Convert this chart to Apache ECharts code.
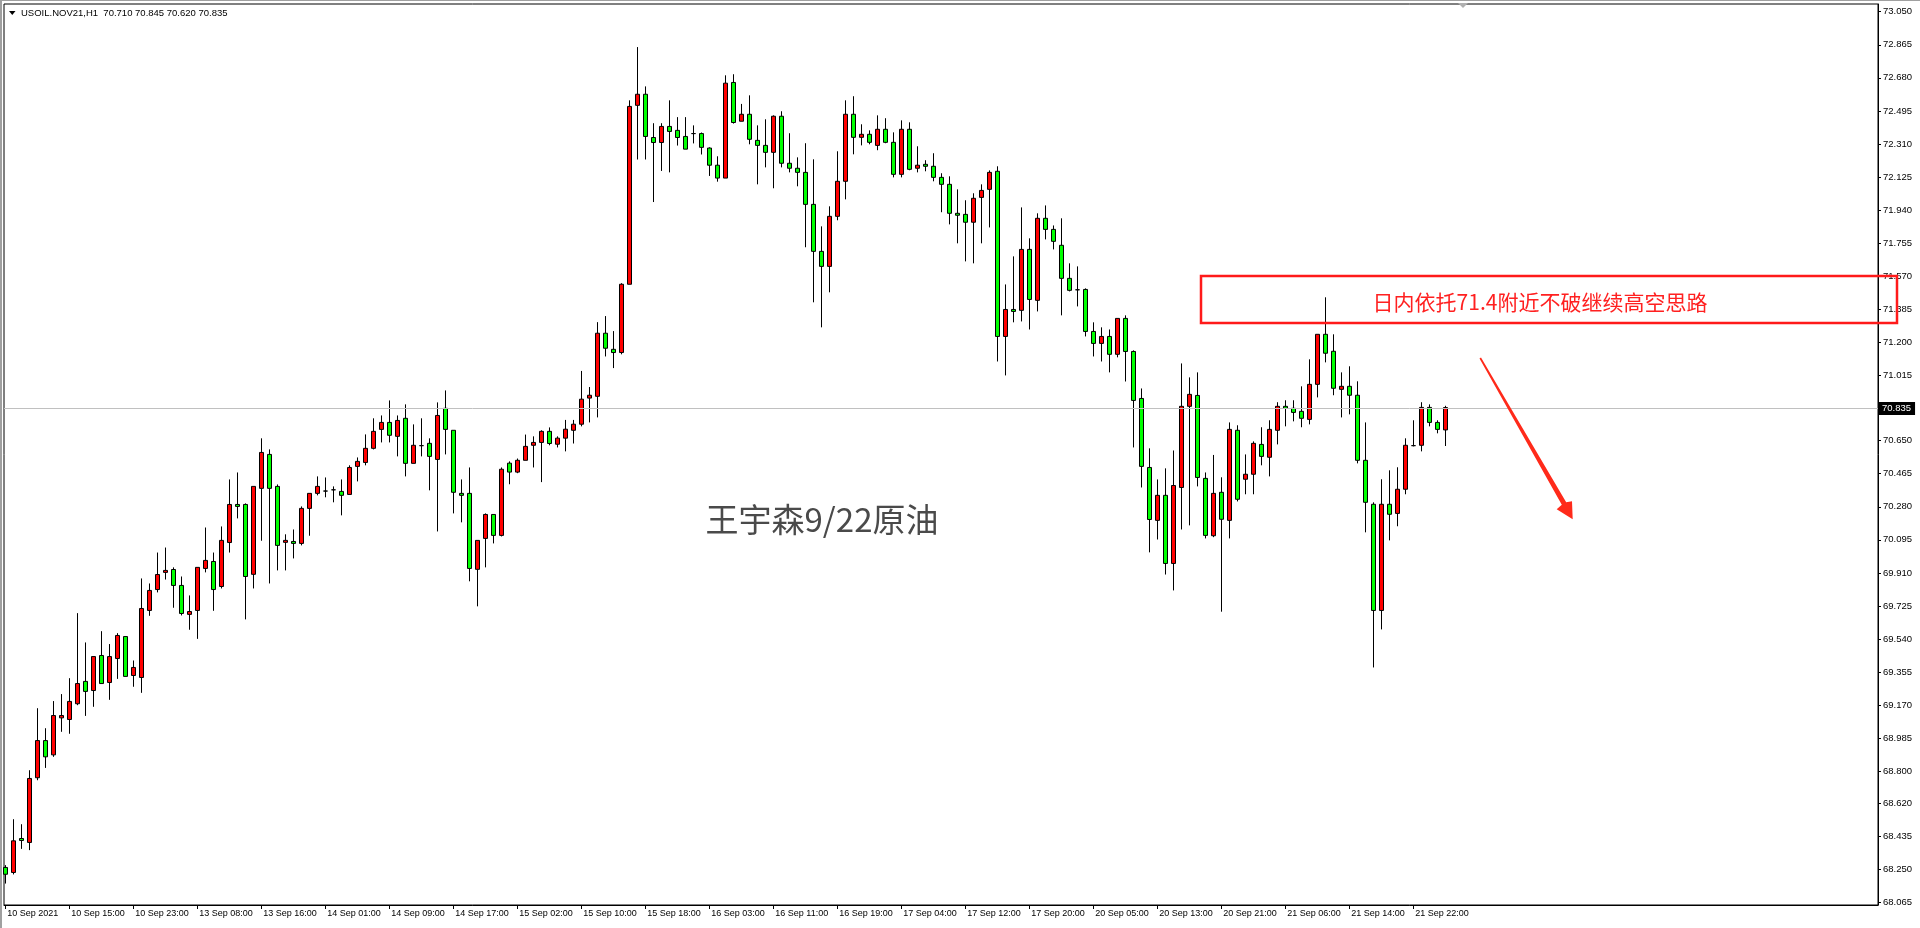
<!DOCTYPE html>
<html><head><meta charset="utf-8">
<script src="https://cdn.jsdelivr.net/npm/echarts@6/dist/echarts.min.js"></script>
<style>html,body{margin:0;padding:0;background:#fff;overflow:hidden}#c{width:1920px;height:928px}</style>
</head><body><div id="c"></div>
<script>
const symbolName = 'USOIL.NOV21,H1';
const xTickLabels = ['10 Sep 2021','10 Sep 15:00','10 Sep 23:00','13 Sep 08:00','13 Sep 16:00','14 Sep 01:00','14 Sep 09:00','14 Sep 17:00','15 Sep 02:00','15 Sep 10:00','15 Sep 18:00','16 Sep 03:00','16 Sep 11:00','16 Sep 19:00','17 Sep 04:00','17 Sep 12:00','17 Sep 20:00','20 Sep 05:00','20 Sep 13:00','20 Sep 21:00','21 Sep 06:00','21 Sep 14:00','21 Sep 22:00'];
const yTickLabels = ['73.050','72.865','72.680','72.495','72.310','72.125','71.940','71.755','71.570','71.385','71.200','71.015','70.650','70.465','70.280','70.095','69.910','69.725','69.540','69.355','69.170','68.985','68.800','68.620','68.435','68.250','68.065'];
const openP = [68.262,68.234,68.424,68.402,68.764,68.972,68.892,69.099,69.090,69.178,
69.303,69.252,69.448,69.297,69.431,69.554,69.336,69.325,69.700,69.817,
69.913,69.929,69.840,69.678,69.700,69.935,69.974,69.834,70.080,70.293,
70.293,69.902,70.383,70.573,70.394,70.081,70.086,70.075,70.271,70.355,
70.368,70.375,70.366,70.349,70.506,70.528,70.607,70.713,70.752,70.674,
70.775,70.523,70.622,70.635,70.545,70.831,70.708,70.355,70.355,69.930,
70.103,70.237,70.120,70.524,70.474,70.540,70.624,70.640,70.702,70.630,
70.664,70.708,70.742,70.888,70.898,71.251,71.161,71.143,71.525,72.526,
72.588,72.346,72.318,72.408,72.386,72.352,72.368,72.368,72.287,72.191,
72.119,72.654,72.437,72.476,72.330,72.302,72.263,72.465,72.202,72.174,
72.151,71.972,71.709,71.625,71.905,72.101,72.476,72.347,72.364,72.302,
72.392,72.319,72.140,72.392,72.174,72.196,72.185,72.123,72.084,71.922,
71.916,71.872,72.011,72.056,72.157,71.233,71.384,71.379,71.720,71.435,
71.894,71.832,71.743,71.558,71.494,71.496,71.261,71.194,71.233,71.133,
71.334,71.149,70.886,70.500,70.204,70.344,69.963,70.388,70.842,70.903,
70.439,70.118,70.361,70.204,70.708,70.434,70.462,70.629,70.557,70.708,
70.842,70.831,70.814,70.769,70.965,71.245,71.150,70.937,70.954,70.904,
70.540,70.294,69.700,70.294,70.243,70.378,70.622,70.624,70.836,70.752,70.710];
const highP = [68.275,68.532,68.504,68.806,69.153,69.041,69.193,69.232,69.321,69.685,
69.521,69.442,69.584,69.512,69.573,69.554,69.420,69.879,69.851,70.024,
70.052,69.941,69.890,69.784,69.941,70.164,70.024,70.170,70.433,70.472,
70.299,70.394,70.663,70.601,70.405,70.126,70.153,70.282,70.355,70.450,
70.444,70.394,70.433,70.512,70.556,70.685,70.775,70.791,70.875,70.791,
70.853,70.741,70.775,70.663,70.864,70.931,70.708,70.433,70.500,70.092,
70.243,70.237,70.500,70.534,70.550,70.684,70.674,70.708,70.724,70.674,
70.766,70.766,71.040,70.950,71.313,71.347,71.263,71.531,72.554,72.852,
72.632,72.426,72.426,72.554,72.460,72.460,72.414,72.374,72.291,72.241,
72.694,72.700,72.534,72.582,72.414,72.448,72.470,72.493,72.370,72.235,
72.314,72.224,71.849,71.961,72.269,72.554,72.577,72.420,72.386,72.470,
72.454,72.375,72.442,72.431,72.297,72.219,72.258,72.146,72.129,72.056,
71.995,72.034,72.084,72.162,72.185,71.524,71.681,71.955,71.782,71.922,
71.966,71.854,71.894,71.642,71.625,71.502,71.312,71.284,71.272,71.334,
71.351,71.155,70.942,70.607,70.433,70.495,70.595,71.082,71.004,71.032,
70.472,70.570,70.445,70.752,70.736,70.573,70.646,70.725,70.764,70.865,
70.876,70.876,70.954,71.105,71.245,71.452,71.245,71.032,71.066,70.982,
70.752,70.305,70.434,70.484,70.501,70.663,70.764,70.865,70.853,70.764,70.845];
const lowP = [68.172,68.223,68.366,68.359,68.750,68.819,68.881,69.021,69.010,69.170,
69.110,69.161,69.291,69.200,69.317,69.331,69.273,69.239,69.670,69.801,
69.873,69.715,69.672,69.592,69.541,69.913,69.698,69.823,70.024,70.215,
69.650,69.823,70.090,69.851,69.924,69.924,69.991,70.064,70.118,70.344,
70.333,70.305,70.232,70.349,70.422,70.512,70.601,70.640,70.640,70.562,
70.450,70.523,70.562,70.372,70.142,70.573,70.243,70.193,69.863,69.723,
69.941,70.075,70.114,70.406,70.468,70.540,70.500,70.418,70.624,70.612,
70.590,70.634,70.730,70.752,70.780,71.121,71.056,71.133,71.525,72.223,
72.223,71.985,72.159,72.151,72.301,72.281,72.313,72.251,72.131,72.099,
72.119,72.424,72.437,72.308,72.084,72.179,72.062,72.179,72.151,72.073,
71.732,71.424,71.284,71.480,71.883,72.000,72.252,72.302,72.308,72.275,
72.314,72.123,72.123,72.163,72.151,72.157,72.101,71.928,71.860,71.754,
71.653,71.642,71.754,71.843,71.093,71.015,71.312,71.317,71.272,71.373,
71.776,71.720,71.351,71.485,71.401,71.233,71.121,71.093,71.032,71.116,
70.981,70.612,70.388,70.025,70.097,69.901,69.812,70.153,70.176,70.394,
70.103,70.110,69.693,70.103,70.310,70.350,70.350,70.512,70.450,70.629,
70.730,70.758,70.725,70.741,70.892,71.088,70.904,70.780,70.797,70.523,
70.137,69.381,69.594,70.092,70.171,70.350,70.618,70.590,70.730,70.691,70.620];
const closeP = [68.224,68.411,68.413,68.760,68.972,68.881,69.112,69.112,69.191,69.291,
69.247,69.442,69.291,69.442,69.560,69.331,69.381,69.711,69.812,69.901,
69.924,69.840,69.683,69.694,69.941,69.980,69.817,70.092,70.293,70.282,
69.890,70.394,70.584,70.383,70.064,70.092,70.075,70.271,70.355,70.394,
70.368,70.375,70.344,70.500,70.534,70.607,70.702,70.752,70.680,70.763,
70.523,70.624,70.622,70.562,70.791,70.713,70.361,70.344,69.935,70.092,
70.237,70.120,70.490,70.474,70.540,70.618,70.640,70.702,70.634,70.664,
70.714,70.742,70.882,70.904,71.251,71.167,71.143,71.525,72.520,72.588,
72.352,72.318,72.408,72.380,72.346,72.281,72.368,72.291,72.191,72.119,
72.650,72.430,72.476,72.336,72.302,72.263,72.465,72.202,72.174,72.151,
71.972,71.709,71.625,71.905,72.101,72.476,72.347,72.364,72.319,72.392,
72.319,72.140,72.392,72.168,72.191,72.185,72.123,72.084,71.922,71.911,
71.872,72.006,72.050,72.151,71.233,71.384,71.373,71.720,71.440,71.894,
71.832,71.765,71.558,71.491,71.494,71.261,71.194,71.233,71.133,71.334,
71.149,70.875,70.506,70.209,70.344,69.963,70.399,70.842,70.909,70.444,
70.120,70.355,70.210,70.713,70.322,70.462,70.635,70.562,70.713,70.842,
70.831,70.808,70.775,70.965,71.245,71.139,70.943,70.954,70.904,70.540,
70.305,69.700,70.294,70.238,70.378,70.624,70.622,70.836,70.752,70.713,70.835];
const noteText = '日内依托71.4附近不破继续高空思路';
const watermarkText = '王宇森9/22原油';

const n = openP.length;
const last = n - 1;
const candles = openP.map((o, i) => [i, o, closeP[i], lowP[i], highP[i]]);
const xTickIdx = xTickLabels.map((_, k) => k * 8);
const yTickVals = yTickLabels.map(Number);
const headerText = symbolName + '  ' + [openP[last], highP[last], lowP[last], closeP[last]].map(v => v.toFixed(3)).join(' ');
const AX_FONT = 'Liberation Sans';

const chart = echarts.init(document.getElementById('c'), null, {renderer: 'canvas'});
chart.setOption({
  animation: false,
  backgroundColor: '#ffffff',
  grid: {left: 4, right: 42, top: 4, bottom: 23, show: true, borderColor: '#000', borderWidth: 1, backgroundColor: '#fff'},
  xAxis: {
    type: 'value', min: -0.1625, max: 234.0875,
    splitLine: {show: false},
    axisLine: {show: true, onZero: false, lineStyle: {color: '#000', width: 1}},
    axisTick: {show: true, customValues: xTickIdx, length: 4, lineStyle: {color: '#000'}},
    axisLabel: {
      customValues: xTickIdx, align: 'left', margin: 4, padding: [0, 0, 0, 2],
      color: '#000', fontSize: 9, fontFamily: AX_FONT,
      formatter: v => xTickLabels[Math.round(v / 8)] || ''
    }
  },
  yAxis: {
    type: 'value', position: 'right', min: 68.052, max: 73.093, scale: true,
    splitLine: {show: false},
    axisLine: {show: true, onZero: false, lineStyle: {color: '#000', width: 1}},
    axisTick: {show: true, customValues: yTickVals, length: 3, lineStyle: {color: '#000'}},
    axisLabel: {
      customValues: yTickVals, margin: 5, color: '#000', fontSize: 9.5, fontFamily: AX_FONT,
      formatter: v => v.toFixed(3)
    }
  },
  series: [{
    type: 'candlestick',
    data: candles,
    encode: {x: 0, y: [1, 2, 3, 4]},
    barWidth: 4,
    itemStyle: {
      color: '#ff0000', color0: '#00ff00',
      borderColor: '#000000', borderColor0: '#000000', borderColorDoji: '#000000',
      borderWidth: 1
    },
    markLine: {
      silent: true, symbol: ['none', 'none'], animation: false,
      lineStyle: {color: '#c0c0c0', width: 1, type: 'solid'},
      label: {
        show: true, position: 'end', distance: 1,
        formatter: () => closeP[last].toFixed(3),
        backgroundColor: '#000', color: '#fff', fontSize: 9.5, fontFamily: AX_FONT,
        padding: [2, 4, 1, 3]
      },
      emphasis: {disabled: true},
      data: [{yAxis: closeP[last]}]
    }
  }],
  graphic: [
    {type: 'rect', z: 200, silent: true, shape: {x: 0, y: 0, width: 2, height: 928}, style: {fill: '#a0a0a0'}},
    {type: 'rect', z: 200, silent: true, shape: {x: 0, y: 0, width: 1920, height: 1}, style: {fill: '#a0a0a0'}},
    {type: 'polygon', z: 200, silent: true, shape: {points: [[9, 11], [15.5, 11], [12.25, 15]]}, style: {fill: '#000'}},
    {type: 'text', z: 200, silent: true, style: {text: headerText, x: 21, y: 13.5, fill: '#000', font: '9.5px "Liberation Sans"', verticalAlign: 'middle', align: 'left'}},
    {type: 'polygon', z: 200, silent: true, shape: {points: [[1458, 3], [1468, 3], [1463, 8]]}, style: {fill: '#b0b0b0'}},
    {type: 'text', z: 50, silent: true, style: {text: watermarkText, x: 822, y: 519, fill: '#4a4a4a', font: '33px "Noto Sans CJK SC"', align: 'center', verticalAlign: 'middle'}},
    {type: 'rect', z: 150, silent: true, shape: {x: 1201, y: 276, width: 696, height: 47}, style: {fill: 'none', stroke: '#ff1a1a', lineWidth: 2.5}},
    {type: 'text', z: 150, silent: true, style: {text: noteText, x: 1540, y: 302, fill: '#ff2020', font: '21px "Noto Sans CJK SC"', align: 'center', verticalAlign: 'middle'}},
    {type: 'polygon', z: 150, silent: true, shape: {points: [[1479.5, 358.5], [1561.8, 504.7], [1556.7, 509.3], [1572.7, 519.3], [1572, 501.3], [1566.2, 502.3], [1481, 357.6]]}, style: {fill: '#ff2a1a'}}
  ]
});
</script>
</body></html>
